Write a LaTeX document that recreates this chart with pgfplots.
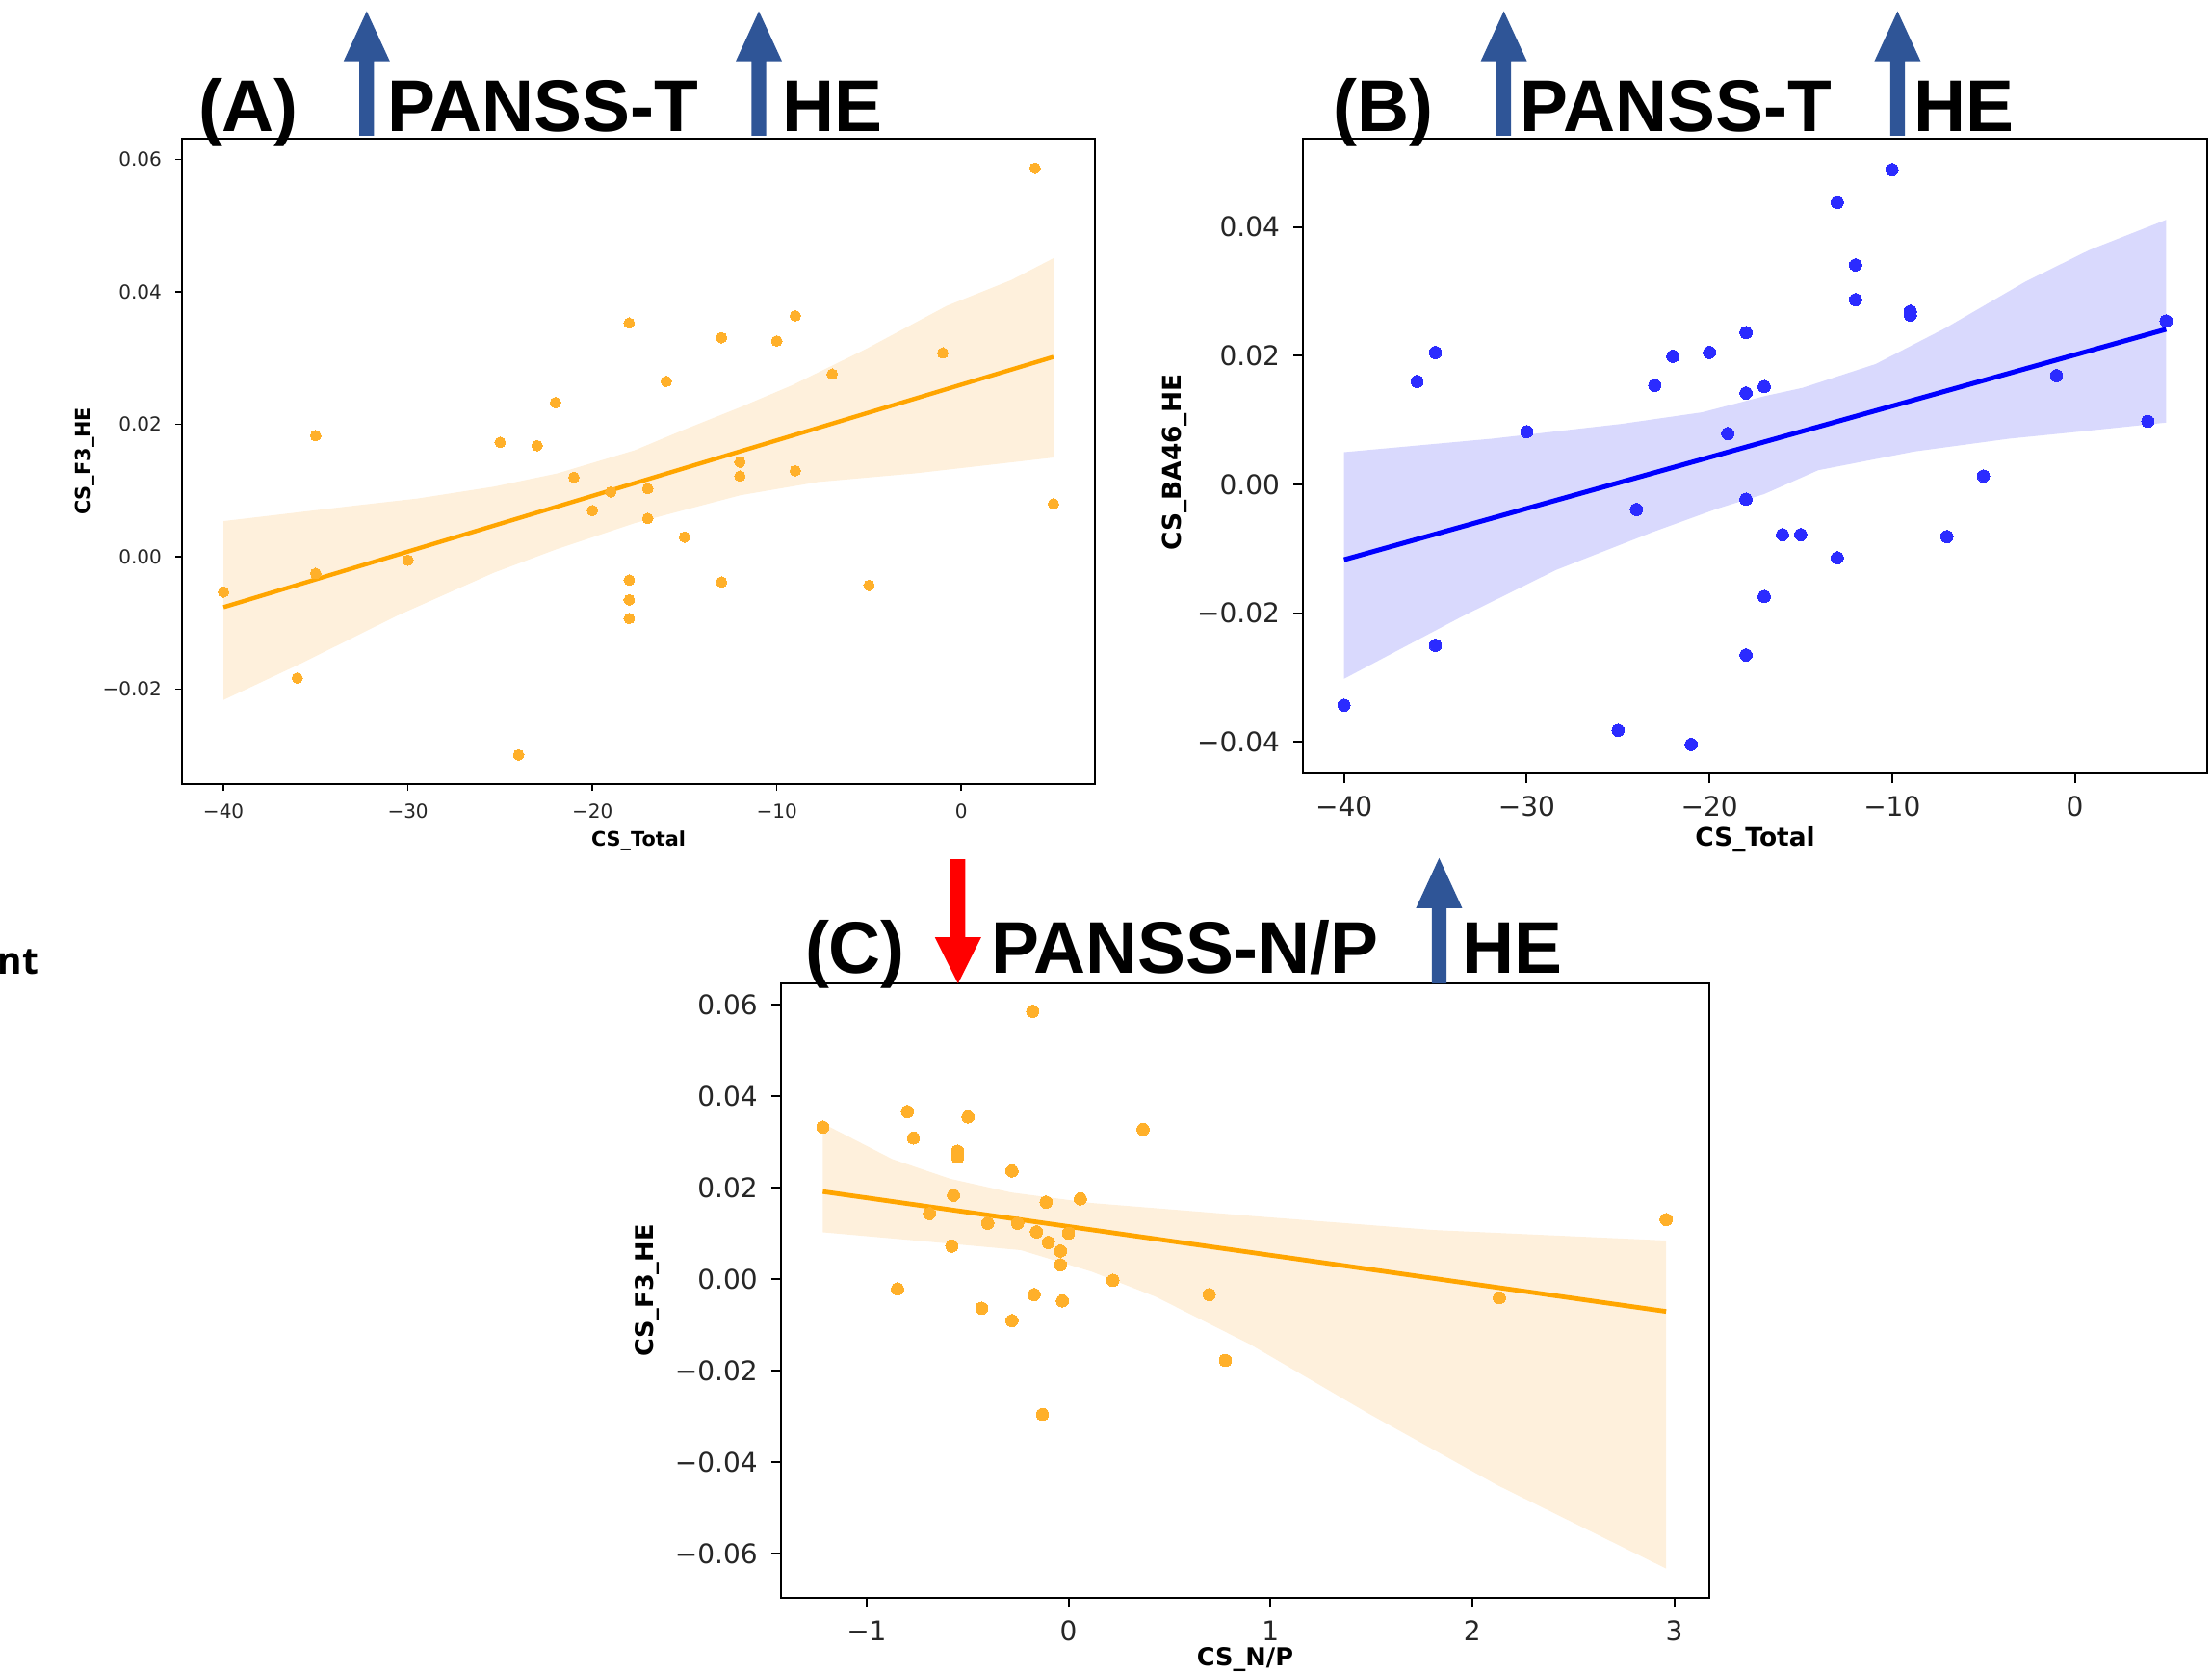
\documentclass[border=0pt]{standalone}
\usepackage{graphicx}
\usepackage{pgfplots}
\pgfplotsset{compat=1.18}
\usepackage{fontspec}
\setmainfont{DejaVu Sans}
\newfontfamily\titlefont{Liberation Sans}
\newfontfamily\ntfont{Open Sans}
\definecolor{ptorange}{HTML}{FFB02A}
\definecolor{lnorange}{HTML}{FFA500}
\definecolor{bandorange}{HTML}{FEF0DC}
\definecolor{ptblue}{HTML}{2B2BFF}
\definecolor{lnblue}{HTML}{0000FF}
\definecolor{bandblue}{HTML}{D9D9FD}
\definecolor{arrblue}{HTML}{2F5597}
\definecolor{arrred}{HTML}{FF0000}
\definecolor{tickgray}{HTML}{262626}
\newcommand\UpArr[3]{% cx, ytop, ybottom (pt)
  \fill[arrblue] ({#1-1.9pt},#3) -- ({#1-1.9pt},{#2-13pt}) -- ({#1-6pt},{#2-13pt}) -- (#1,#2) -- ({#1+6pt},{#2-13pt}) -- ({#1+1.9pt},{#2-13pt}) -- ({#1+1.9pt},#3) -- cycle;}
\newcommand\DownArr[3]{% cx, ytop, ytip
  \fill[arrred] ({#1-1.9pt},#2) -- ({#1-1.9pt},{#3+12pt}) -- ({#1-6pt},{#3+12pt}) -- (#1,#3) -- ({#1+6pt},{#3+12pt}) -- ({#1+1.9pt},{#3+12pt}) -- ({#1+1.9pt},#2) -- cycle;}
\newcommand\Ttl[1]{\titlefont\bfseries\fontsize{19}{19}\selectfont\scalebox{0.985}[1]{#1}}
\pgfplotsset{
  myaxis/.style={
    scale only axis, anchor=south west,
    tick align=outside, xtick pos=bottom, ytick pos=left,
    axis line style={black},
    tick style={black},
    scaled ticks=false,
    clip=true,
  }
}
\begin{document}
\begin{tikzpicture}
\useasboundingbox (0,0) rectangle (574.25pt,-433.75pt);
% ---------------- Panel A ----------------
\begin{axis}[myaxis,
  at={(47.25pt,-203.5pt)}, width=237pt, height=167.6pt,
  xmin=-42.25, xmax=7.25, ymin=-0.0343, ymax=0.0632,
  xtick={-40,-30,-20,-10,0}, xticklabels={−40,−30,−20,−10,0},
  ytick={-0.02,0,0.02,0.04,0.06}, yticklabels={−0.02,0.00,0.02,0.04,0.06},
  major tick length=1.75pt,
  axis line style={line width=0.45pt}, tick style={line width=0.4pt},
  ticklabel style={font=\fontsize{5}{6}\selectfont, text=tickgray},
  xlabel={CS\_Total}, ylabel={CS\_F3\_HE},
  label style={font=\bfseries\fontsize{5.2}{6}\selectfont},
  xlabel style={at={(axis description cs:0.5,-0.088)}, anchor=center},
  ylabel style={at={(axis description cs:-0.1065,0.5)}, anchor=center},
]
\addplot[draw=none, fill=bandorange, forget plot] coordinates {
(-40,0.0054) (-33,0.0077) (-29.5,0.0088) (-25.35,0.0106) (-21.9,0.0126) (-17.7,0.0161) (-15.12,0.0191) (-11.98,0.0226) (-9.18,0.0259) (-5.16,0.0314) (-0.79,0.0379) (2.71,0.0418) (5,0.0451)
(5,0.0150) (-2.53,0.0126) (-7.78,0.0113) (-11.98,0.0093) (-15.12,0.0070) (-17.7,0.0051) (-21.9,0.0012) (-25.35,-0.0024) (-30.6,-0.0089) (-35.8,-0.0161) (-40,-0.0216)
} -- cycle;
\addplot[only marks, color=ptorange, mark=*, mark size=1.38pt, mark options={solid, draw=ptorange, fill=ptorange, line width=0pt}] table {
x y
-40 -0.0053
-35 0.0183
-35 -0.0025
-36 -0.0183
-30 -0.0005
-25 0.0173
-23 0.0168
-22 0.0233
-21 0.0120
-20 0.0070
-19 0.0098
-18 0.0353
-18 -0.0035
-18 -0.0065
-18 -0.0093
-24 -0.0299
-17 0.0103
-17 0.0058
-16 0.0265
-15 0.0030
-13 0.0331
-13 -0.0038
-12 0.0143
-12 0.0122
-10 0.0326
-9 0.0364
-9 0.0130
-7 0.0276
-5 -0.0043
-1 0.0308
4 0.0587
5 0.0080
};
\addplot[lnorange, line width=1.1pt] coordinates {(-40,-0.0076) (5,0.0302)};
\end{axis}
% ---------------- Panel B ----------------
\begin{axis}[myaxis,
  at={(338.25pt,-200.75pt)}, width=234.75pt, height=164.75pt,
  xmin=-42.25, xmax=7.25, ymin=-0.0449, ymax=0.0537,
  xtick={-40,-30,-20,-10,0}, xticklabels={−40,−30,−20,−10,0},
  ytick={-0.04,-0.02,0,0.02,0.04}, yticklabels={−0.04,−0.02,0.00,0.02,0.04},
  major tick length=2.5pt,
  axis line style={line width=0.6pt}, tick style={line width=0.5pt},
  ticklabel style={font=\fontsize{7}{8}\selectfont, text=tickgray},
  xlabel={CS\_Total}, ylabel={CS\_BA46\_HE},
  label style={font=\bfseries\fontsize{6.6}{8}\selectfont},
  xlabel style={at={(axis description cs:0.5,-0.1047)}, anchor=center},
  ylabel style={at={(axis description cs:-0.1416,0.49)}, anchor=center},
]
\addplot[draw=none, fill=bandblue, forget plot] coordinates {
(-40,0.0050) (-31.9,0.0071) (-24.8,0.0094) (-20.4,0.0112) (-17,0.0137) (-14.9,0.0150) (-10.9,0.0187) (-7.07,0.0243) (-2.7,0.0315) (0.79,0.0364) (5,0.0411)
(5,0.0096) (-0.09,0.0081) (-3.6,0.0071) (-8.8,0.0051) (-14.05,0.0022) (-17,-0.0015) (-19.6,-0.0038) (-23.1,-0.0074) (-28.4,-0.0133) (-33.6,-0.0206) (-40,-0.0302)
} -- cycle;
\addplot[only marks, color=ptblue, mark=*, mark size=1.6pt, mark options={solid, draw=ptblue, fill=ptblue, line width=0pt}] table {
x y
-40 -0.0343
-36 0.0160
-35 0.0205
-35 -0.0250
-30 0.0082
-25 -0.0382
-24 -0.0039
-23 0.0154
-22 0.0199
-21 -0.0404
-20 0.0205
-19 0.0079
-18 0.0236
-18 0.0142
-18 -0.0023
-18 -0.0265
-17 0.0152
-17 -0.0174
-16 -0.0078
-15 -0.0078
-13 0.0438
-13 -0.0114
-12 0.0341
-12 0.0287
-10 0.0489
-9 0.0269
-9 0.0263
-7 -0.0081
-5 0.0013
-1 0.0169
4 0.0098
5 0.0254
};
\addplot[lnblue, line width=1.25pt] coordinates {(-40,-0.0117) (5,0.0241)};
\end{axis}
% ---------------- Panel C ----------------
\begin{axis}[myaxis,
  at={(202.7pt,-414.75pt)}, width=241.1pt, height=159.5pt,
  xmin=-1.425, xmax=3.175, ymin=-0.0697, ymax=0.0646,
  xtick={-1,0,1,2,3}, xticklabels={−1,0,1,2,3},
  ytick={-0.06,-0.04,-0.02,0,0.02,0.04,0.06}, yticklabels={−0.06,−0.04,−0.02,0.00,0.02,0.04,0.06},
  major tick length=2.5pt,
  axis line style={line width=0.6pt}, tick style={line width=0.5pt},
  ticklabel style={font=\fontsize{7}{8}\selectfont, text=tickgray},
  xlabel={CS\_N/P}, ylabel={CS\_F3\_HE},
  label style={font=\bfseries\fontsize{6.4}{8}\selectfont},
  xlabel style={at={(axis description cs:0.5,-0.1003)}, anchor=center},
  ylabel style={at={(axis description cs:-0.1438,0.5)}, anchor=center},
]
\addplot[draw=none, fill=bandorange, forget plot] coordinates {
(-1.217,0.0340) (-0.873,0.0262) (-0.586,0.0219) (-0.283,0.0189) (0.115,0.0166) (0.9,0.0138) (1.81,0.0107) (2.96,0.0084)
(2.96,-0.0633) (2.126,-0.0451) (1.49,-0.0295) (0.9,-0.0143) (0.433,-0.0039) (0.115,0.0016) (-0.236,0.0063) (-0.68,0.0081) (-1.217,0.0102)
} -- cycle;
\addplot[only marks, color=ptorange, mark=*, mark size=1.6pt, mark options={solid, draw=ptorange, fill=ptorange, line width=0pt}] table {
x y
-1.217 0.0332
-0.798 0.0366
-0.768 0.0308
-0.847 -0.0022
-0.689 0.0143
-0.549 0.0279
-0.549 0.0266
-0.570 0.0183
-0.578 0.0072
-0.498 0.0354
-0.430 -0.0064
-0.400 0.0122
-0.280 0.0236
-0.280 -0.0091
-0.252 0.0122
-0.178 0.0585
-0.170 -0.0034
-0.159 0.0103
-0.129 -0.0296
-0.111 0.0168
-0.100 0.0080
-0.040 0.0061
-0.040 0.0031
-0.030 -0.0048
0.000 0.0100
0.059 0.0175
0.220 -0.0003
0.369 0.0327
0.697 -0.0034
0.777 -0.0178
2.134 -0.0041
2.960 0.0130
};
\addplot[lnorange, line width=1.2pt] coordinates {(-1.217,0.0191) (2.96,-0.0071)};
\end{axis}
% ---------------- Titles ----------------
\UpArr{95.2pt}{-2.9pt}{-35.2pt}
\UpArr{197pt}{-2.9pt}{-35.2pt}
\UpArr{390.4pt}{-2.9pt}{-35.2pt}
\UpArr{492.6pt}{-2.9pt}{-35.2pt}
\UpArr{373.6pt}{-222.7pt}{-255.3pt}
\DownArr{248.7pt}{-223pt}{-255.3pt}
\node[anchor=base west, inner sep=0] at (51.3pt,-34.05pt) {\Ttl{(A)}};
\node[anchor=base west, inner sep=0] at (100.4pt,-34.05pt) {\Ttl{PANSS-T}};
\node[anchor=base west, inner sep=0] at (202.9pt,-34.05pt) {\Ttl{HE}};
\node[anchor=base west, inner sep=0] at (346pt,-34.05pt) {\Ttl{(B)}};
\node[anchor=base west, inner sep=0] at (394.5pt,-34.05pt) {\Ttl{PANSS-T}};
\node[anchor=base west, inner sep=0] at (496.6pt,-34.05pt) {\Ttl{HE}};
\node[anchor=base west, inner sep=0] at (208.8pt,-252.7pt) {\Ttl{(C)}};
\node[anchor=base west, inner sep=0] at (257.1pt,-252.7pt) {\Ttl{PANSS-N/P}};
\node[anchor=base west, inner sep=0] at (379.4pt,-252.7pt) {\Ttl{HE}};
\node[anchor=base east, inner sep=0] at (10.25pt,-252.75pt) {\ntfont\bfseries\fontsize{9.7}{10}\selectfont nt};
\end{tikzpicture}
\end{document}
